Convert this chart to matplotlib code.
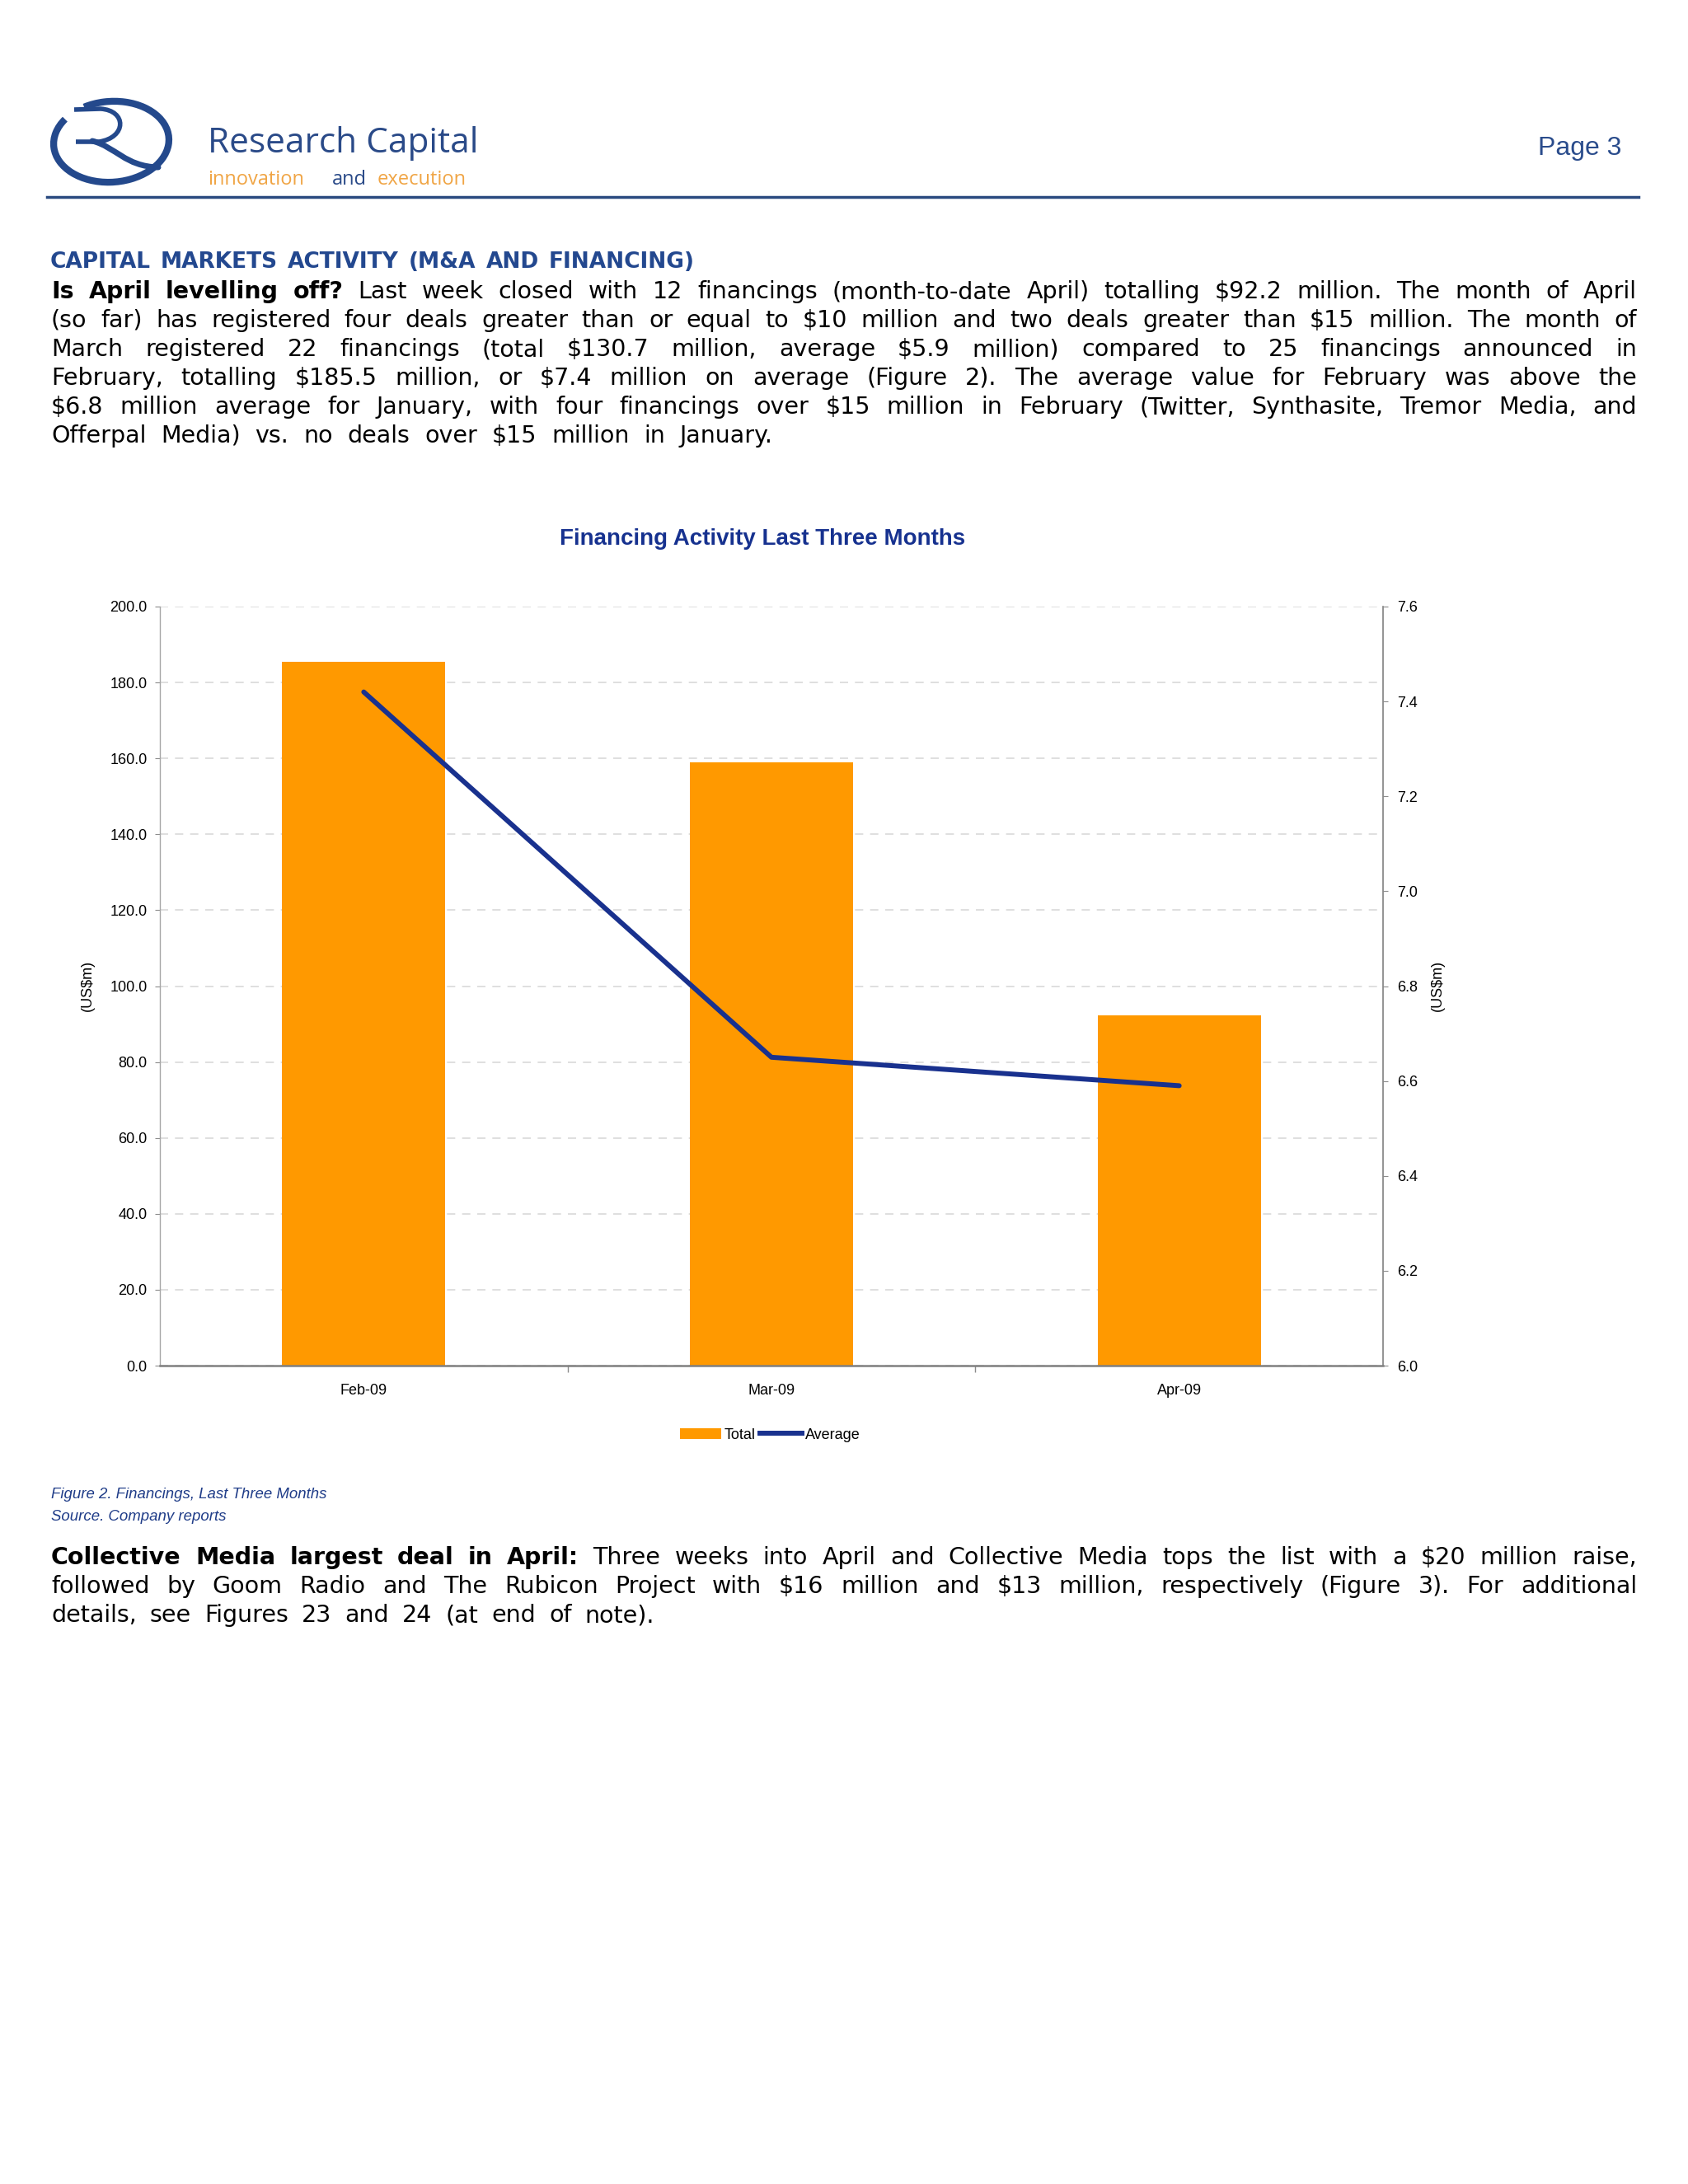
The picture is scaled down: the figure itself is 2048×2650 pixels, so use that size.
import matplotlib
matplotlib.use("Agg")
import numpy as np
import matplotlib.pyplot as plt
from matplotlib.font_manager import FontProperties
from matplotlib.patches import Arc, PathPatch, Patch
from matplotlib.lines import Line2D
from matplotlib.path import Path
from matplotlib.ticker import FormatStrFormatter

plt.rcParams['font.family'] = ['Liberation Sans', 'DejaVu Sans']

# chart data
months = ['Feb-09', 'Mar-09', 'Apr-09']
total = [185.5, 159.0, 92.2]          # US$m, bars (left axis)
average = [7.42, 6.65, 6.59]          # US$m, line (right axis)

# page text
heading = "CAPITAL MARKETS ACTIVITY (M&A AND FINANCING)"
para1 = [
    "Is April levelling off? Last week closed with 12 financings (month-to-date April) totalling $92.2 million. The month of April",
    "(so far) has registered four deals greater than or equal to $10 million and two deals greater than $15 million. The month of",
    "March registered 22 financings (total $130.7 million, average $5.9 million) compared to 25 financings announced in",
    "February, totalling $185.5 million, or $7.4 million on average (Figure 2). The average value for February was above the",
    "$6.8 million average for January, with four financings over $15 million in February (Twitter, Synthasite, Tremor Media, and",
    "Offerpal Media) vs. no deals over $15 million in January.",
]
para2 = [
    "Collective Media largest deal in April: Three weeks into April and Collective Media tops the list with a $20 million raise,",
    "followed by Goom Radio and The Rubicon Project with $16 million and $13 million, respectively (Figure 3). For additional",
    "details, see Figures 23 and 24 (at end of note).",
]
caption = ["Figure 2. Financings, Last Three Months", "Source. Company reports"]

W, H = 2048, 2650
NAVY = '#24498c'
ORANGE = '#ff9900'
LINE_BLUE = '#19318e'
TITLE_BLUE = '#16318f'
AXIS_GRAY = '#8c8c8c'
BODY_FONT = 'DejaVu Sans'

fig = plt.figure(figsize=(W / 100, H / 100), dpi=100)
fig.patch.set_facecolor('white')
renderer = fig.canvas.get_renderer()


def fx(x):
    return x / W


def fy(y):
    return 1 - y / H


def text_width(s, fp):
    w, h, d = renderer.get_text_width_height_descent(s, fp, ismath=False)
    return w


def draw_justified(line, x0, x1, y, size, color='black', n_bold=0, all_bold=False):
    # place words one by one so the line spans x0..x1
    words = line.split(' ')
    fps = []
    for i, w in enumerate(words):
        bold = all_bold or i < n_bold
        fps.append(FontProperties(family=BODY_FONT, size=size,
                                  weight='bold' if bold else 'normal'))
    widths = [text_width(w, fp) for w, fp in zip(words, fps)]
    gap = (x1 - x0 - sum(widths)) / max(len(words) - 1, 1)
    x = x0
    for w, wd, fp in zip(words, widths, fps):
        fig.text(fx(x), fy(y), w, fontproperties=fp, color=color,
                 ha='left', va='baseline', parse_math=False)
        x += wd + gap


# ---- header: logo, name, page number, rule
deco = fig.add_axes([0, 0, 1, 1], zorder=-1)
deco.set_xlim(0, W)
deco.set_ylim(H, 0)
deco.axis('off')

deco.add_patch(Arc((135, 172), 140, 98, angle=-4, theta1=236, theta2=570,
                   color=NAVY, lw=6))
bowl = Path([(90, 133), (122, 132), (154, 134), (154, 167), (120, 172), (92, 172)],
            [Path.MOVETO, Path.LINETO, Path.CURVE4, Path.CURVE4, Path.CURVE4, Path.LINETO])
deco.add_patch(PathPatch(bowl, fill=False, edgecolor=NAVY, lw=4))
leg = Path([(112, 171), (140, 178), (152, 202), (192, 203)],
           [Path.MOVETO, Path.CURVE4, Path.CURVE4, Path.CURVE4])
deco.add_patch(PathPatch(leg, fill=False, edgecolor=NAVY, lw=5, capstyle='round'))
deco.plot([57, 1988], [239, 239], color='#2a4a80', lw=2.5)

fig.text(fx(252), fy(185), 'Research Capital', fontsize=30.5, family=['Open Sans', 'DejaVu Sans'],
         color='#2a4a88', ha='left', va='baseline')
tag_font = dict(fontsize=17, family=['Open Sans', 'DejaVu Sans'], ha='left', va='baseline')
fig.text(fx(252), fy(224), 'innovation', color='#f0a545', **tag_font)
fig.text(fx(403), fy(224), 'and', color='#2a4a88', **tag_font)
fig.text(fx(458), fy(224), 'execution', color='#f0a545', **tag_font)
fig.text(fx(1967), fy(188), 'Page 3', fontsize=23, color='#2a4c8c', ha='right', va='baseline')

# ---- heading and first paragraph
draw_justified(heading, 61, 843, 325, 19, color='#23488f', all_bold=True)
for i, line in enumerate(para1):
    last = i == len(para1) - 1
    draw_justified(line, 62, 938 if last else 1986, 362 + 35 * i, 20.5,
                   n_bold=4 if i == 0 else 0)

# ---- chart
ax = fig.add_axes([fx(194), fy(1657), (1678 - 194) / W, (1657 - 736) / H])
x = np.arange(len(months))
bars = ax.bar(x, total, width=0.4, color=ORANGE, label='Total', zorder=2)
ax.set_xlim(-0.5, len(months) - 0.5)
ax.set_ylim(0, 200)
ax.set_yticks(np.arange(0, 201, 20))
ax.yaxis.set_major_formatter(FormatStrFormatter('%.1f'))
ax.grid(axis='y', color='#d9d9d9', linestyle=(0, (6, 5)), lw=1.2)
ax.set_axisbelow(True)
ax.set_xticks(x)
ax.set_xticklabels(months)
ax.set_xticks(x[:-1] + 0.5, minor=True)
ax.tick_params(axis='x', which='major', length=0, pad=16, labelsize=13)
ax.tick_params(axis='x', which='minor', length=6, color=AXIS_GRAY, width=1)
ax.tick_params(axis='y', length=4, color=AXIS_GRAY, pad=7, labelsize=13)
for s in ['top', 'right']:
    ax.spines[s].set_visible(False)
ax.spines['left'].set_color('#a6a6a6')
ax.spines['left'].set_linewidth(1)
ax.spines['bottom'].set_color('#808080')
ax.spines['bottom'].set_linewidth(1.8)

ax2 = ax.twinx()
avg_line, = ax2.plot(x, average, color=LINE_BLUE, lw=4.3, label='Average',
                     solid_capstyle='round', zorder=3)
ax2.set_ylim(6.0, 7.6)
ax2.set_yticks(np.arange(6.0, 7.61, 0.2))
ax2.yaxis.set_major_formatter(FormatStrFormatter('%.1f'))
ax2.tick_params(axis='y', length=4, color=AXIS_GRAY, pad=8, labelsize=13)
for s in ['top', 'left', 'bottom']:
    ax2.spines[s].set_visible(False)
ax2.spines['right'].set_color('#808080')
ax2.spines['right'].set_linewidth(1.2)

fig.text(fx(925), fy(661), 'Financing Activity Last Three Months', fontsize=20,
         weight='bold', color=TITLE_BLUE, ha='center', va='baseline')
fig.text(fx(106), fy(1196), '(US$m)', rotation=90, fontsize=13, ha='center', va='center',
         parse_math=False)
fig.text(fx(1744), fy(1196), '(US$m)', rotation=90, fontsize=13, ha='center', va='center',
         parse_math=False)

handles = [Patch(facecolor=ORANGE, edgecolor='none'), Line2D([], [], color=LINE_BLUE, lw=4.3)]
fig.legend(handles, ['Total', 'Average'], loc='center', bbox_to_anchor=(fx(934), fy(1741)),
           ncol=2, frameon=False, fontsize=13, handlelength=2.8, handleheight=0.7,
           handletextpad=0.2, columnspacing=0.3)

# ---- caption and second paragraph
for i, line in enumerate(caption):
    fig.text(fx(62), fy(1818 + 27 * i), line, fontsize=13.4, style='italic',
             color='#1f3c88', ha='left', va='baseline')
for i, line in enumerate(para2):
    last = i == len(para2) - 1
    draw_justified(line, 62, 794 if last else 1986, 1898 + 35 * i, 20.5,
                   n_bold=6 if i == 0 else 0)

fig.savefig('out.png', dpi=100)
